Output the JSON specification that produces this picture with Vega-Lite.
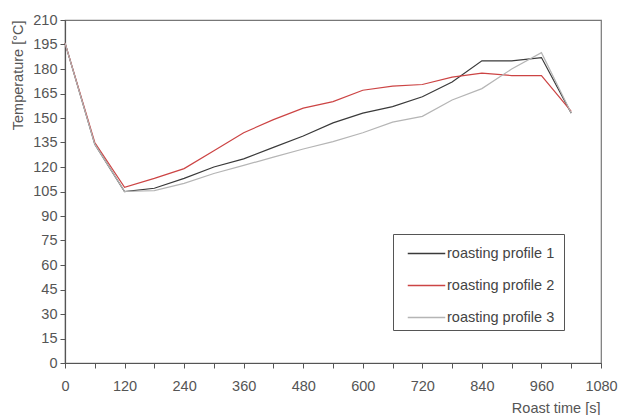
{
  "$schema": "https://vega.github.io/schema/vega-lite/v6.json",
  "width": 536,
  "height": 343,
  "autosize": "none",
  "padding": {"left": 65, "top": 20, "right": 18, "bottom": 52},
  "background": "white",
  "config": {
    "font": "Liberation Sans",
    "view": {"stroke": "#777", "strokeWidth": 1.2},
    "axis": {
      "grid": false,
      "domainColor": "#555",
      "tickColor": "#555",
      "labelColor": "#555",
      "titleColor": "#555",
      "labelFontSize": 14.5,
      "titleFontSize": 14.5,
      "titleFontWeight": "normal",
      "tickSize": 5,
      "domainWidth": 1.2
    }
  },
  "data": {
    "values": [
      {"t": 0, "T": 196, "p": "roasting profile 1"},
      {"t": 60, "T": 134, "p": "roasting profile 1"},
      {"t": 120, "T": 105, "p": "roasting profile 1"},
      {"t": 180, "T": 107, "p": "roasting profile 1"},
      {"t": 240, "T": 113, "p": "roasting profile 1"},
      {"t": 300, "T": 120, "p": "roasting profile 1"},
      {"t": 360, "T": 125, "p": "roasting profile 1"},
      {"t": 420, "T": 132, "p": "roasting profile 1"},
      {"t": 480, "T": 139, "p": "roasting profile 1"},
      {"t": 540, "T": 147, "p": "roasting profile 1"},
      {"t": 600, "T": 153, "p": "roasting profile 1"},
      {"t": 660, "T": 157, "p": "roasting profile 1"},
      {"t": 720, "T": 163, "p": "roasting profile 1"},
      {"t": 780, "T": 172, "p": "roasting profile 1"},
      {"t": 840, "T": 185, "p": "roasting profile 1"},
      {"t": 900, "T": 185, "p": "roasting profile 1"},
      {"t": 960, "T": 187, "p": "roasting profile 1"},
      {"t": 1020, "T": 153, "p": "roasting profile 1"},
      {"t": 0, "T": 196, "p": "roasting profile 2"},
      {"t": 60, "T": 135, "p": "roasting profile 2"},
      {"t": 120, "T": 107.5, "p": "roasting profile 2"},
      {"t": 180, "T": 113, "p": "roasting profile 2"},
      {"t": 240, "T": 119, "p": "roasting profile 2"},
      {"t": 300, "T": 130, "p": "roasting profile 2"},
      {"t": 360, "T": 141, "p": "roasting profile 2"},
      {"t": 420, "T": 149, "p": "roasting profile 2"},
      {"t": 480, "T": 156, "p": "roasting profile 2"},
      {"t": 540, "T": 160, "p": "roasting profile 2"},
      {"t": 600, "T": 167, "p": "roasting profile 2"},
      {"t": 660, "T": 169.5, "p": "roasting profile 2"},
      {"t": 720, "T": 170.5, "p": "roasting profile 2"},
      {"t": 780, "T": 175, "p": "roasting profile 2"},
      {"t": 840, "T": 177.5, "p": "roasting profile 2"},
      {"t": 900, "T": 176, "p": "roasting profile 2"},
      {"t": 960, "T": 176, "p": "roasting profile 2"},
      {"t": 1020, "T": 154, "p": "roasting profile 2"},
      {"t": 0, "T": 196, "p": "roasting profile 3"},
      {"t": 60, "T": 134, "p": "roasting profile 3"},
      {"t": 120, "T": 105, "p": "roasting profile 3"},
      {"t": 180, "T": 105.5, "p": "roasting profile 3"},
      {"t": 240, "T": 110, "p": "roasting profile 3"},
      {"t": 300, "T": 116, "p": "roasting profile 3"},
      {"t": 360, "T": 121, "p": "roasting profile 3"},
      {"t": 420, "T": 126, "p": "roasting profile 3"},
      {"t": 480, "T": 131, "p": "roasting profile 3"},
      {"t": 540, "T": 135.5, "p": "roasting profile 3"},
      {"t": 600, "T": 141, "p": "roasting profile 3"},
      {"t": 660, "T": 147.5, "p": "roasting profile 3"},
      {"t": 720, "T": 151, "p": "roasting profile 3"},
      {"t": 780, "T": 161, "p": "roasting profile 3"},
      {"t": 840, "T": 168, "p": "roasting profile 3"},
      {"t": 900, "T": 180, "p": "roasting profile 3"},
      {"t": 960, "T": 190, "p": "roasting profile 3"},
      {"t": 1020, "T": 153, "p": "roasting profile 3"}
    ]
  },
  "mark": {"type": "line", "strokeWidth": 1.2},
  "encoding": {
    "x": {
      "field": "t",
      "type": "quantitative",
      "scale": {"domain": [0, 1080], "nice": false},
      "axis": {
        "values": [0, 60, 120, 180, 240, 300, 360, 420, 480, 540, 600, 660, 720, 780, 840, 900, 960, 1020, 1080],
        "format": "d",
        "labelExpr": "datum.value % 120 === 0 ? datum.label : ''",
        "labelPadding": 11,
        "labelFlush": false,
        "labelOverlap": false,
        "title": "Roast time [s]",
        "titleAnchor": null,
        "titleAlign": "right",
        "titleX": 535,
        "titleY": 45,
        "titleBaseline": "middle"
      }
    },
    "y": {
      "field": "T",
      "type": "quantitative",
      "scale": {"domain": [0, 210], "nice": false},
      "axis": {
        "values": [0, 15, 30, 45, 60, 75, 90, 105, 120, 135, 150, 165, 180, 195, 210],
        "labelPadding": 3,
        "labelFlush": false,
        "labelOverlap": false,
        "tickSize": 5,
        "title": "Temperature [°C]",
        "titleAnchor": null,
        "titleAngle": -90,
        "titleAlign": "right",
        "titleBaseline": "middle",
        "titleX": -47,
        "titleY": 0
      }
    },
    "color": {
      "field": "p",
      "type": "nominal",
      "scale": {"range": ["#3a3a3a", "#cc4444", "#b5b5b5"]},
      "legend": {
        "title": "\u00a0",
        "titleOrient": "right",
        "titlePadding": 4,
        "titleFontSize": 14.5,
        "orient": "none",
        "legendX": 328,
        "legendY": 214,
        "direction": "vertical",
        "symbolType": "M-1.5,0H1.5",
        "symbolSize": 625,
        "symbolStrokeWidth": 1.4,
        "symbolOffset": 14,
        "labelFontSize": 14.5,
        "labelColor": "#444",
        "labelOffset": 7,
        "rowPadding": 12,
        "padding": 6,
        "strokeColor": "#555",
        "fillColor": "white",
        "symbolLimit": 0,
        "encode": {
          "symbols": {
            "update": {
              "stroke": {"scale": "color", "field": "value"},
              "fill": {"value": "transparent"}
            }
          }
        }
      }
    }
  }
}
